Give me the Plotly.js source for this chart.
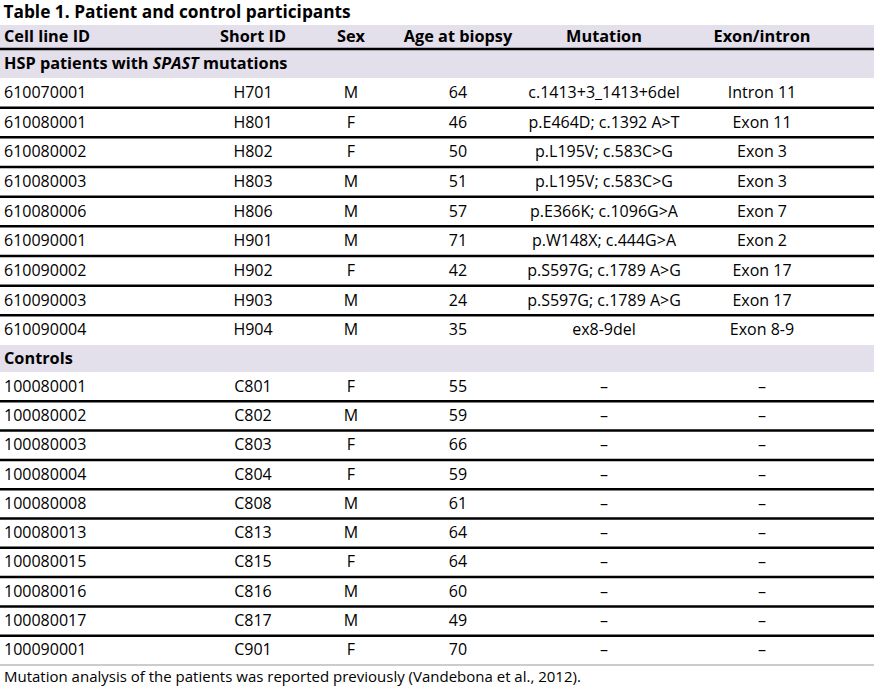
<!DOCTYPE html>
<html>
<head>
<meta charset="utf-8">
<script src="https://cdn.plot.ly/plotly-3.0.1.min.js"></script>
<style>html,body{margin:0;padding:0;background:#fff}#chart{width:874px;height:691px}</style>
</head>
<body>
<div id="chart"></div>
<script>
// ---------- DATA ----------
const tableTitle = "Table 1. Patient and control participants";
const columns = ["Cell line ID", "Short ID", "Sex", "Age at biopsy", "Mutation", "Exon/intron"];
const sectionLabels = ["HSP patients with <i>SPAST</i> mutations", "Controls"];

const patientIds = ["610070001","610080001","610080002","610080003","610080006","610090001","610090002","610090003","610090004"];
const patientShort = ["H701","H801","H802","H803","H806","H901","H902","H903","H904"];
const patientSex = ["M","F","F","M","M","M","F","M","M"];
const patientAge = [64,46,50,51,57,71,42,24,35];
const patientMutation = ["c.1413+3_1413+6del","p.E464D; c.1392 A>T","p.L195V; c.583C>G","p.L195V; c.583C>G","p.E366K; c.1096G>A","p.W148X; c.444G>A","p.S597G; c.1789 A>G","p.S597G; c.1789 A>G","ex8-9del"];
const patientExon = ["Intron 11","Exon 11","Exon 3","Exon 3","Exon 7","Exon 2","Exon 17","Exon 17","Exon 8-9"];

const controlIds = ["100080001","100080002","100080003","100080004","100080008","100080013","100080015","100080016","100080017","100090001"];
const controlShort = ["C801","C802","C803","C804","C808","C813","C815","C816","C817","C901"];
const controlSex = ["F","M","F","F","M","M","F","M","M","F"];
const controlAge = [55,59,66,59,61,64,64,60,49,70];
const controlMutation = ["–","–","–","–","–","–","–","–","–","–"];
const controlExon = ["–","–","–","–","–","–","–","–","–","–"];

const footnote = "Mutation analysis of the patients was reported previously (Vandebona et al., 2012).";

// ---------- STYLE / GEOMETRY ----------
const W = 874, H = 691;
const FONT = "Open Sans, sans-serif";
const bodySize = 16, headSize = 16.3, titleSize = 17.3, footSize = 15;
const ink = "#000";
const band = "#e3dfeb";
const colX = [4, 253, 351, 458, 604, 762];
const headerTop = 25, headerH = 24;
const sec1H = 29, patientBlockEnd = 345;
const sec2H = 27, controlBlockEnd = 665;
const footY = 678;

// row geometry
const rows = [];
rows.push({kind: "header", top: headerTop, h: headerH, cells: columns});
let y = headerTop + headerH;
rows.push({kind: "section", top: y, h: sec1H, cells: [sectionLabels[0]]});
y += sec1H;
const pH = (patientBlockEnd - y) / patientIds.length;
patientIds.forEach((id, i) => {
  rows.push({kind: "body", group: 0, top: y, h: pH,
    cells: [id, patientShort[i], patientSex[i], String(patientAge[i]), patientMutation[i], patientExon[i]]});
  y += pH;
});
rows.push({kind: "section", top: y, h: sec2H, cells: [sectionLabels[1]]});
y += sec2H;
const cH = (controlBlockEnd - y) / controlIds.length;
controlIds.forEach((id, i) => {
  rows.push({kind: "body", group: 1, top: y, h: cH,
    cells: [id, controlShort[i], controlSex[i], String(controlAge[i]), controlMutation[i], controlExon[i]]});
  y += cH;
});

// ---------- TRACES ----------
const traces = [];
function addText(kind, bold) {
  const sel = rows.filter(r => r.kind === kind);
  const ncol = Math.max(...sel.map(r => r.cells.length));
  for (let j = 0; j < ncol; j++) {
    const rr = sel.filter(r => r.cells[j] !== undefined);
    traces.push({
      type: "scatter", mode: "text", hoverinfo: "skip", showlegend: false,
      x: rr.map(() => colX[j]),
      y: rr.map(r => r.top + r.h / 2 + 1),
      text: rr.map(r => bold ? "<b>" + r.cells[j] + "</b>" : r.cells[j]),
      textposition: j === 0 ? "middle right" : "middle center",
      textfont: {family: FONT, size: bold ? headSize : bodySize, color: ink}
    });
  }
}
addText("header", true);
addText("section", true);
addText("body", false);
traces.push({
  type: "scatter", mode: "text", hoverinfo: "skip", showlegend: false,
  x: [colX[0]], y: [footY], text: [footnote], textposition: "middle right",
  textfont: {family: FONT, size: footSize, color: ink}
});

// ---------- SHAPES ----------
const shapes = [];
rows.filter(r => r.kind !== "body").forEach(r => {
  shapes.push({type: "rect", xref: "x", yref: "y", x0: 0, x1: W, y0: r.top, y1: r.top + r.h,
    fillcolor: band, line: {width: 0}, layer: "below"});
});
shapes.push({type: "line", xref: "x", yref: "y", x0: 0, x1: W, y0: headerTop + headerH, y1: headerTop + headerH,
  line: {color: "#000", width: 2.5}});
for (let i = 1; i < rows.length; i++) {
  const a = rows[i - 1], b = rows[i];
  if (a.kind === "body" && b.kind === "body" && a.group === b.group) {
    shapes.push({type: "line", xref: "x", yref: "y", x0: 0, x1: W, y0: b.top, y1: b.top,
      line: {color: "#000", width: 2.5}});
  }
}
const last = rows[rows.length - 1];
shapes.push({type: "line", xref: "x", yref: "y", x0: 0, x1: W, y0: last.top + last.h, y1: last.top + last.h,
  line: {color: "#999", width: 1}});

const layout = {
  width: W, height: H,
  margin: {l: 0, r: 0, t: 0, b: 0},
  paper_bgcolor: "#fff", plot_bgcolor: "#fff",
  title: {text: "<b>" + tableTitle + "</b>", x: 0.004, xanchor: "left", xref: "paper",
    y: 1 - 12 / H, yanchor: "middle", yref: "container",
    font: {family: FONT, size: titleSize, color: ink}},
  xaxis: {range: [0, W], visible: false, fixedrange: true},
  yaxis: {range: [H, 0], visible: false, fixedrange: true},
  shapes: shapes,
  showlegend: false
};

Plotly.newPlot("chart", traces, layout, {staticPlot: true, displayModeBar: false});
</script>
</body>
</html>
